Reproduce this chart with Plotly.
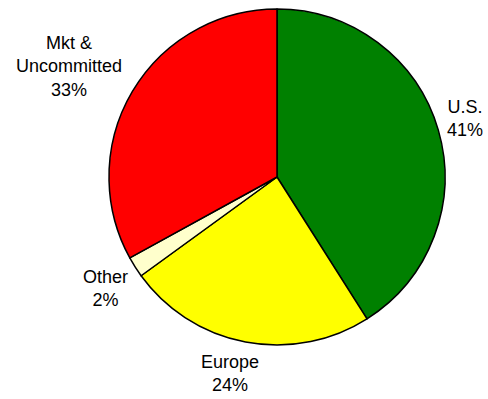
import math
import plotly.graph_objects as go

# Share of total by region
labels = ["U.S.", "Europe", "Other", "Mkt &<br>Uncommitted"]
values = [41, 24, 2, 33]
colors = ["#008000", "#FFFF00", "#FFFFCC", "#FF0000"]
# Label placement: distance out (in pie radii) and a small angular nudge (deg)
label_dist = [1.172, 1.205, 1.214, 1.402]
label_nudge = [-1.1, 2.6, -0.6, -2.6]

W, H = 488, 399
cx, cy, r = 277, 177, 168  # pie centre / radius in pixels

fig = go.Figure(
    go.Pie(
        labels=labels,
        values=values,
        marker=dict(colors=colors, line=dict(color="black", width=1.5)),
        sort=False,
        direction="clockwise",
        rotation=0,
        textinfo="none",
        hoverinfo="label+percent",
        domain=dict(x=[(cx - r) / W, (cx + r) / W],
                    y=[1 - (cy + r) / H, 1 - (cy - r) / H]),
        showlegend=False,
    )
)

# Outside labels placed along each slice's middle angle
total = sum(values)
cum = 0
for lab, v, d, nudge in zip(labels, values, label_dist, label_nudge):
    mid = (cum + v / 2) / total * 2 * math.pi + math.radians(nudge)
    cum += v
    px = cx + r * d * math.sin(mid)
    py = cy - r * d * math.cos(mid)
    fig.add_annotation(
        x=px / W, y=1 - py / H, xref="paper", yref="paper",
        text=f"{lab}<br>{round(v / total * 100)}%",
        showarrow=False, xanchor="center", yanchor="middle",
        font=dict(family="Liberation Sans, Arial", size=18, color="black"),
    )

fig.update_layout(
    width=W, height=H,
    margin=dict(l=0, r=0, t=0, b=0),
    paper_bgcolor="white",
    plot_bgcolor="white",
)

fig.write_html("out.html")
